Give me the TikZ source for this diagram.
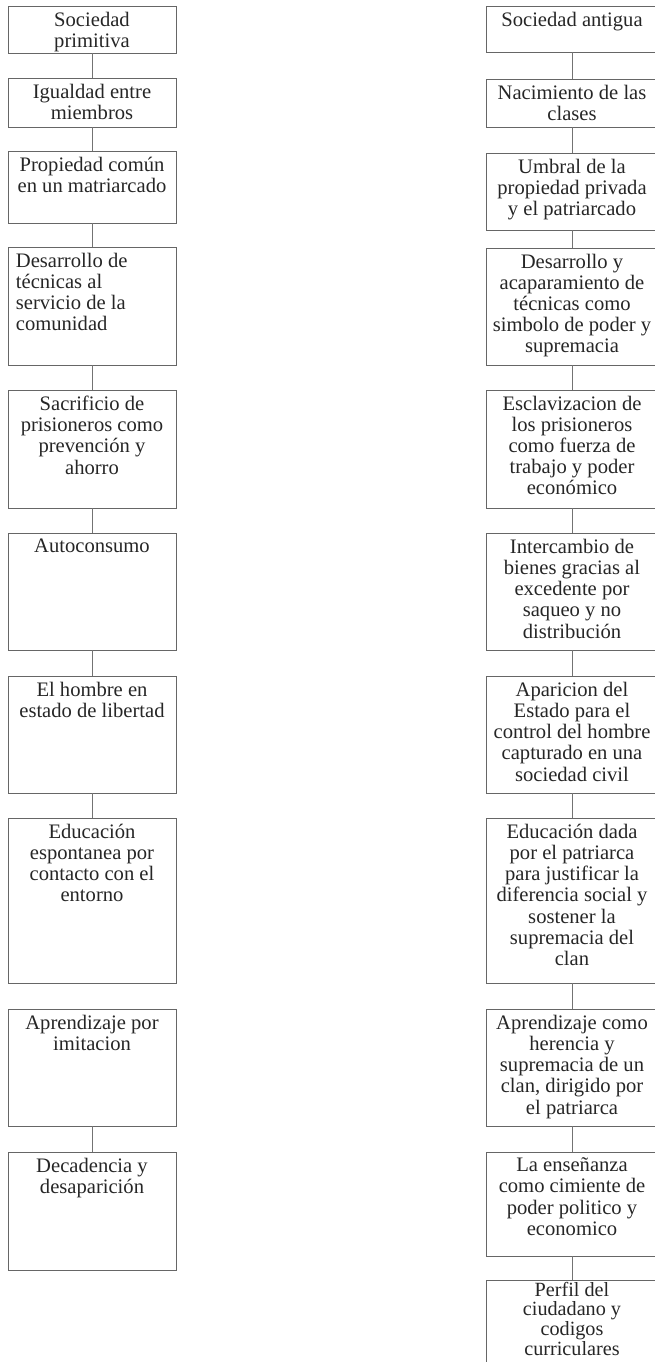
\documentclass[tikz,border=0pt]{standalone}
\usepackage{fontspec}
\setmainfont{Liberation Serif}
\begin{document}
\begin{tikzpicture}[x=1pt,y=-1pt,
  boxL/.style={draw=black!60, line width=0.6pt, minimum width=168pt, inner sep=0pt},
  boxR/.style={draw=black!60, line width=0.6pt, minimum width=172pt, inner sep=0pt},
  txt/.style={inner sep=0pt, text=black!85, font=\fontsize{20.6}{21.2}\selectfont},
  link/.style={draw=black!55, line width=0.6pt}]
\useasboundingbox (0,0) rectangle (654,1362);
\newcommand{\lbox}[5]{%
  \node[boxL, minimum height={(#3-#2)*1pt}] (#1) at (92,{(#2+#3)/2}) {};
  \node[txt, align=#4, anchor=north] at ([yshift=-6pt]#1.north) {#5};}
\newcommand{\rbox}[4]{%
  \node[boxR, minimum height={(#3-#2)*1pt}] (#1) at (572,{(#2+#3)/2}) {};
  \node[txt, align=center, anchor=north] at ([yshift=-6pt]#1.north) {#4};}
% left column
\lbox{l1}{6}{53}{center}{Sociedad\\primitiva}
\lbox{l2}{78}{127}{center}{Igualdad entre\\miembros}
\lbox{l3}{151}{223}{center}{Propiedad común\\en un matriarcado}
\node[boxL, minimum height=118pt] (l4) at (92,306) {};
\node[txt, align=left, anchor=north west] at ([xshift=8pt,yshift=-6pt]l4.north west) {Desarrollo de\\técnicas al\\servicio de la\\comunidad};
\lbox{l5}{390}{508}{center}{Sacrificio de\\prisioneros como\\prevención y\\ahorro}
\lbox{l6}{533}{650}{center}{Autoconsumo}
\lbox{l7}{676}{793}{center}{El hombre en\\estado de libertad}
\lbox{l8}{818}{983}{center}{Educación\\espontanea por\\contacto con el\\entorno}
\lbox{l9}{1009}{1126}{center}{Aprendizaje por\\imitacion}
\lbox{l10}{1152}{1270}{center}{Decadencia y\\desaparición}
\draw[link] (l1.south) -- (l2.north);
\draw[link] (l2.south) -- (l3.north);
\draw[link] (l3.south) -- (l4.north);
\draw[link] (l4.south) -- (l5.north);
\draw[link] (l5.south) -- (l6.north);
\draw[link] (l6.south) -- (l7.north);
\draw[link] (l7.south) -- (l8.north);
\draw[link] (l9.south) -- (l10.north);
% right column
\rbox{r1}{6}{52}{Sociedad antigua}
\rbox{r2}{79}{127}{Nacimiento de las\\clases}
\rbox{r3}{153}{230}{Umbral de la\\propiedad privada\\y el patriarcado}
\rbox{r4}{248}{365}{Desarrollo y\\acaparamiento de\\técnicas como\\simbolo de poder y\\supremacia}
\rbox{r5}{390}{508}{Esclavizacion de\\los prisioneros\\como fuerza de\\trabajo y poder\\económico}
\rbox{r6}{533}{650}{Intercambio de\\bienes gracias al\\excedente por\\saqueo y no\\distribución}
\rbox{r7}{676}{793}{Aparicion del\\Estado para el\\control del hombre\\capturado en una\\sociedad civil}
\rbox{r8}{818}{983}{Educación dada\\por el patriarca\\para justificar la\\diferencia social y\\sostener la\\supremacia del\\clan}
\rbox{r9}{1009}{1126}{Aprendizaje como\\herencia y\\supremacia de un\\clan, dirigido por\\el patriarca}
\rbox{r10}{1152}{1256}{La enseñanza\\como cimiente de\\poder politico y\\economico}
\node[boxR, minimum height=120pt] (r11) at (572,1340) {};
\node[txt, align=center, anchor=north, font=\fontsize{20.2}{19.8}\selectfont] at ([yshift=-2pt]r11.north) {Perfil del\\ciudadano y\\codigos\\curriculares};
\draw[link] (r1.south) -- (r2.north);
\draw[link] (r2.south) -- (r3.north);
\draw[link] (r3.south) -- (r4.north);
\draw[link] (r4.south) -- (r5.north);
\draw[link] (r5.south) -- (r6.north);
\draw[link] (r6.south) -- (r7.north);
\draw[link] (r7.south) -- (r8.north);
\draw[link] (r8.south) -- (r9.north);
\draw[link] (r9.south) -- (r10.north);
\draw[link] (r10.south) -- (r11.north);
\end{tikzpicture}
\end{document}
